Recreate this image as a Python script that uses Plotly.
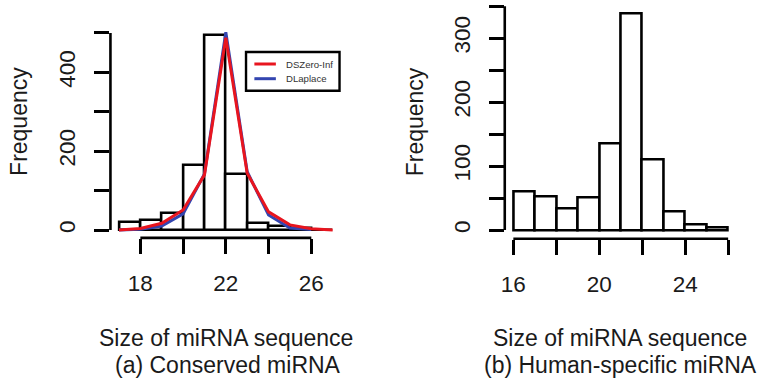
import plotly.graph_objects as go

# ---------------- data ----------------
# (a) Conserved miRNA: histogram bins (left edges, width 1) and counts
cons_bin_left = [17, 18, 19, 20, 21, 22, 23, 24, 25, 26]
cons_counts = [20, 24, 43, 165, 495, 141, 18, 11, 4, 1]
# fitted curves evaluated at integer sizes
fit_x = [17, 18, 19, 20, 21, 22, 23, 24, 25, 26, 27]
dszero_inf = [0, 4, 17, 51, 140, 488, 144, 46, 13, 3, 0]
dlaplace_x = [17, 18, 19, 20, 21, 22, 23, 24, 25, 26]
dlaplace = [0, 2, 10, 41, 142, 502, 148, 38, 5, 1]

# (b) Human-specific miRNA
hum_bin_left = [16, 17, 18, 19, 20, 21, 22, 23, 24, 25]
hum_counts = [61, 52, 34, 51, 136, 339, 110, 29, 9, 4]

# axes ticks
cons_xticks = [18, 20, 22, 24, 26]
cons_xlabels = ["18", "", "22", "", "26"]
cons_yticks = [0, 100, 200, 300, 400, 500]
cons_ylabels = ["0", "", "200", "", "400", ""]
hum_xticks = [16, 18, 20, 22, 24, 26]
hum_xlabels = ["16", "", "20", "", "24", ""]
hum_yticks = [0, 50, 100, 150, 200, 250, 300, 350]
hum_ylabels = ["0", "", "100", "", "200", "", "300", ""]

W, H = 762, 385
FONT = "Liberation Sans, Arial, sans-serif"
LW = 2.6

fig = go.Figure()

# histograms
fig.add_trace(go.Bar(x=[b + 0.5 for b in cons_bin_left], y=cons_counts, width=1,
                     marker=dict(color="white", line=dict(color="black", width=LW)),
                     xaxis="x", yaxis="y", showlegend=False, hoverinfo="x+y"))
fig.add_trace(go.Scatter(x=dlaplace_x, y=dlaplace, mode="lines", name="DLaplace",
                         line=dict(color="#3345b0", width=3), xaxis="x", yaxis="y",
                         showlegend=False))
fig.add_trace(go.Scatter(x=fit_x, y=dszero_inf, mode="lines", name="DSZero-Inf",
                         line=dict(color="#e8151f", width=3), xaxis="x", yaxis="y",
                         showlegend=False))
fig.add_trace(go.Bar(x=[b + 0.5 for b in hum_bin_left], y=hum_counts, width=1,
                     marker=dict(color="white", line=dict(color="black", width=LW)),
                     xaxis="x2", yaxis="y2", showlegend=False, hoverinfo="x+y"))


def px_dom(a, b, total):
    return [a / total, b / total]


def py_dom(top, bottom):
    return [1 - bottom / H, 1 - top / H]


# R-like ranges (4% extension)
def ext(lo, hi):
    d = (hi - lo) * 0.04
    return [lo - d, hi + d]


cons_xr = ext(min(cons_bin_left), max(cons_bin_left) + 1)
cons_yr = ext(0, 500)
hum_xr = ext(min(hum_bin_left), max(hum_bin_left) + 1)
hum_yr = ext(0, max(hum_counts))

axis_common = dict(showgrid=False, zeroline=False, showline=False, ticks="outside",
                   ticklen=15, tickwidth=LW, tickcolor="black",
                   tickfont=dict(family=FONT, size=22.5, color="#1a1a1a"))

fig.update_layout(
    width=W, height=H, margin=dict(l=0, r=0, t=0, b=0),
    paper_bgcolor="white", plot_bgcolor="white", bargap=0,
    xaxis=dict(domain=px_dom(107, 339, W), range=cons_xr, anchor="y",
               tickvals=cons_xticks, ticktext=cons_xlabels, ticklabelstandoff=10,
               **axis_common),
    yaxis=dict(domain=py_dom(25.1, 237.9), range=cons_yr, anchor="x",
               tickvals=cons_yticks, ticktext=cons_ylabels, tickangle=-90,
               ticklabelstandoff=10, **axis_common),
    xaxis2=dict(domain=px_dom(503.4, 736.6, W), range=hum_xr, anchor="y2",
                tickvals=hum_xticks, ticktext=hum_xlabels, ticklabelstandoff=10,
                **axis_common),
    yaxis2=dict(domain=py_dom(4.5, 238.7), range=hum_yr, anchor="x2",
                tickvals=hum_yticks, ticktext=hum_ylabels, tickangle=-90,
                ticklabelstandoff=10, **axis_common),
)

# R-style axis lines spanning first..last tick
shape_line = dict(color="black", width=LW)
fig.add_shape(type="line", xref="x", yref="y domain", x0=min(cons_xticks), x1=max(cons_xticks),
              y0=0, y1=0, line=shape_line)
fig.add_shape(type="line", xref="x domain", yref="y", x0=0, x1=0,
              y0=min(cons_yticks), y1=max(cons_yticks), line=shape_line)
fig.add_shape(type="line", xref="x2", yref="y2 domain", x0=min(hum_xticks), x1=max(hum_xticks),
              y0=0, y1=0, line=shape_line)
fig.add_shape(type="line", xref="x2 domain", yref="y2", x0=0, x1=0,
              y0=min(hum_yticks), y1=max(hum_yticks), line=shape_line)

# legend box (drawn R-style)
def pxx(v):
    return v / W


def pyy(v):
    return 1 - v / H


fig.add_shape(type="rect", xref="paper", yref="paper", x0=pxx(243.3), x1=pxx(337.3),
              y0=pyy(90.7), y1=pyy(52), line=dict(color="black", width=2.4), fillcolor="white")
fig.add_shape(type="line", xref="paper", yref="paper", x0=pxx(251.7), x1=pxx(273.3),
              y0=pyy(64), y1=pyy(64), line=dict(color="#e8151f", width=3))
fig.add_shape(type="line", xref="paper", yref="paper", x0=pxx(251.7), x1=pxx(273.3),
              y0=pyy(78.7), y1=pyy(78.7), line=dict(color="#3345b0", width=3))
for txt, yy in [("DSZero-Inf", 64), ("DLaplace", 78.7)]:
    fig.add_annotation(text=txt, xref="paper", yref="paper", x=pxx(281.5), y=pyy(yy),
                       xanchor="left", yanchor="middle", showarrow=False,
                       font=dict(family=FONT, size=9.6, color="#333333"))

# axis titles / captions
for x, y, t, ang in [(15, 121, "Frequency", -90), (413, 121.5, "Frequency", -90),
                     (223, 338, "Size of miRNA sequence", 0),
                     (225, 365, "(a) Conserved miRNA", 0),
                     (619.5, 338, "Size of miRNA sequence", 0),
                     (619.5, 365, "(b) Human-specific miRNA", 0)]:
    fig.add_annotation(text=t, xref="paper", yref="paper", x=pxx(x), y=pyy(y),
                       xanchor="center", yanchor="middle", showarrow=False, textangle=ang,
                       font=dict(family=FONT, size=23, color="#1a1a1a"))

fig.write_html("out.html", post_script="document.body.style.margin='0';",
               config={"displayModeBar": False})
